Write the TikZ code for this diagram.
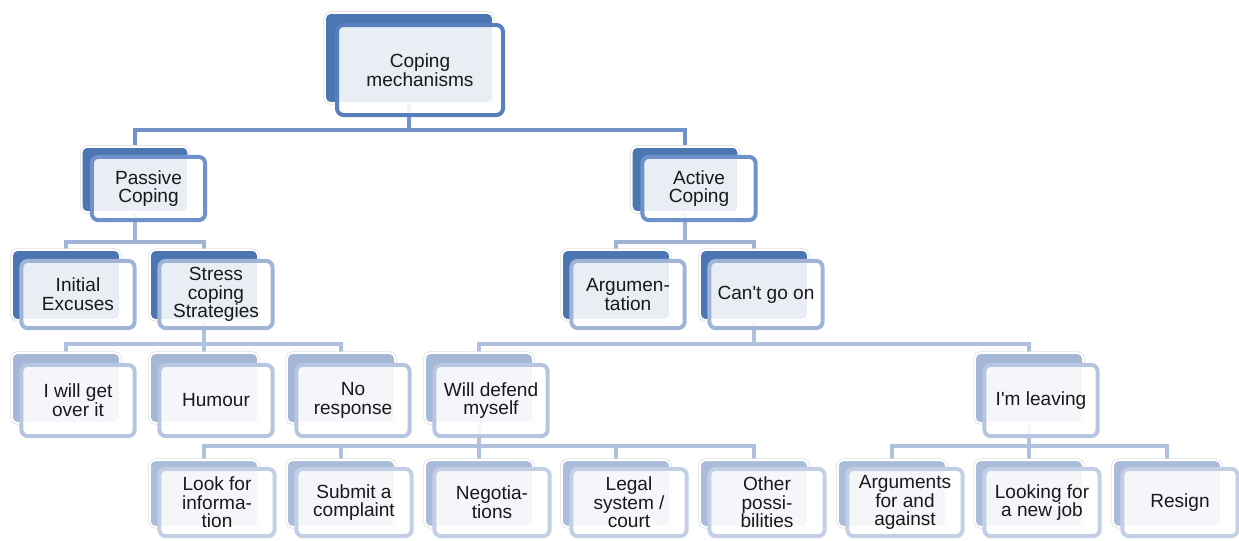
\documentclass[tikz,border=0pt]{standalone}
\usepackage{fontspec}
\setmainfont{Liberation Sans}
\usepackage{tikz}
\usetikzlibrary{backgrounds}

\definecolor{dkback}{RGB}{76,118,177}
\definecolor{rootedge}{RGB}{86,128,189}
\definecolor{midedge}{RGB}{112,146,202}
\definecolor{lightedge}{RGB}{160,180,215}
\definecolor{paleback}{RGB}{165,183,215}
\definecolor{paleedge}{RGB}{183,198,224}
\definecolor{faintback}{RGB}{171,188,218}
\definecolor{faintedge}{RGB}{195,207,229}
\definecolor{linkA}{RGB}{112,146,200}
\definecolor{linkB}{RGB}{160,180,215}
\definecolor{linkC}{RGB}{176,193,222}
\definecolor{txt}{RGB}{25,25,25}

\tikzset{
  backbox/.style n args={3}{fill=#1, draw=white, line width=1.4pt, rounded corners=4pt,
    inner sep=0pt, minimum width=#2, minimum height=#3,
    preaction={draw=black!13, line width=2.6pt}},
  frontbox/.style n args={3}{fill=white, fill opacity=0.88, text opacity=1, draw=#1,
    line width=3pt, rounded corners=5pt, inner sep=0pt, minimum width=#2, minimum height=#3,
    align=center, text=txt, font=\fontsize{14.3pt}{14pt}\selectfont},
  link/.style={draw=#1, line width=3pt}
}

\begin{document}
\begin{tikzpicture}[x=0.75pt,y=0.75pt,yscale=-1,xscale=1]
\useasboundingbox (0,0) rectangle (1239,540);

%Top box
\node [backbox={dkback}{126pt}{67.5pt}] (coping-b) at (409,58) {};
\node [frontbox={rootedge}{124.5pt}{67.5pt}] (coping) at (420,70) {Coping\\mechanisms};

%Second row
\node [backbox={dkback}{80pt}{49pt}] (passive-b) at (135,179.5) {};
\node [frontbox={midedge}{85pt}{47.5pt}] (passive) at (148.5,188.5) {Passive\\Coping};
\node [backbox={dkback}{80pt}{49pt}] (active-b) at (685,179.5) {};
\node [frontbox={midedge}{85pt}{47.5pt}] (active) at (699,188.5) {Active\\Coping};

%Third row
\node [backbox={dkback}{81pt}{52.5pt}] (excuses-b) at (66,285) {};
\node [frontbox={lightedge}{85pt}{50.5pt}] (excuses) at (78,294.5) {Initial\\Excuses};
\node [backbox={dkback}{81pt}{52.5pt}] (stress-b) at (204,285) {};
\node [frontbox={lightedge}{85pt}{50.5pt}] (stress) at (216,294.5) {Stress\\coping\\Strategies};
\node [backbox={dkback}{81pt}{52.5pt}] (argue-b) at (616,285) {};
\node [frontbox={lightedge}{85pt}{50.5pt}] (argue) at (628,294.5) {Argumen-\\tation};
\node [backbox={dkback}{81pt}{52.5pt}] (cant-b) at (754,285) {};
\node [frontbox={lightedge}{85pt}{50.5pt}] (cant) at (766,294.5) {Can\textquotesingle t go on};

%Fourth row
\node [backbox={paleback}{81pt}{52.5pt}] (getover-b) at (66,388) {};
\node [frontbox={paleedge}{85pt}{53.5pt}] (getover) at (78,400.5) {I will get\\over it};
\node [backbox={paleback}{81pt}{52.5pt}] (humour-b) at (204,388) {};
\node [frontbox={paleedge}{85pt}{53.5pt}] (humour) at (216,400.5) {Humour};
\node [backbox={paleback}{81pt}{52.5pt}] (noresp-b) at (341,388) {};
\node [frontbox={paleedge}{85pt}{53.5pt}] (noresp) at (353,400.5) {No\\response};
\node [backbox={paleback}{81pt}{52.5pt}] (defend-b) at (479,388) {};
\node [frontbox={paleedge}{85pt}{53.5pt}] (defend) at (491,400.5) {Will defend\\myself};
\node [backbox={paleback}{81pt}{52.5pt}] (leaving-b) at (1029,388) {};
\node [frontbox={paleedge}{85pt}{53.5pt}] (leaving) at (1041,400.5) {I\textquotesingle m leaving};

%Fifth row
\node [backbox={faintback}{81pt}{50pt}] (info-b) at (204,493.5) {};
\node [frontbox={faintedge}{86.5pt}{50.5pt}] (info) at (217,502.5) {Look for\\informa-\\tion};
\node [backbox={faintback}{81pt}{50pt}] (complaint-b) at (341,493.5) {};
\node [frontbox={faintedge}{86.5pt}{50.5pt}] (complaint) at (354,502.5) {Submit a\\complaint};
\node [backbox={faintback}{81pt}{50pt}] (negot-b) at (479,493.5) {};
\node [frontbox={faintedge}{86.5pt}{50.5pt}] (negot) at (492,502.5) {Negotia-\\tions};
\node [backbox={faintback}{81pt}{50pt}] (legal-b) at (616,493.5) {};
\node [frontbox={faintedge}{86.5pt}{50.5pt}] (legal) at (629,502.5) {Legal\\system /\\court};
\node [backbox={faintback}{81pt}{50pt}] (other-b) at (754,493.5) {};
\node [frontbox={faintedge}{86.5pt}{50.5pt}] (other) at (767,502.5) {Other\\possi-\\bilities};
\node [backbox={faintback}{81pt}{50pt}] (pros-b) at (892,493.5) {};
\node [frontbox={faintedge}{86.5pt}{50.5pt}] (pros) at (905,502.5) {Arguments\\for and\\against};
\node [backbox={faintback}{81pt}{50pt}] (newjob-b) at (1029,493.5) {};
\node [frontbox={faintedge}{86.5pt}{50.5pt}] (newjob) at (1042,502.5) {Looking for\\a new job};
\node [backbox={faintback}{81pt}{50pt}] (resign-b) at (1167,493.5) {};
\node [frontbox={faintedge}{86.5pt}{50.5pt}] (resign) at (1180,502.5) {Resign};

%Connectors
\coordinate (bar1) at (0,130);
\coordinate (bar2) at (0,242);
\coordinate (bar3) at (0,344);
\coordinate (bar4) at (0,446);
\begin{scope}[on background layer]
\foreach \kid in {passive,active}
  \draw [link=linkA] (coping-b.south) -- (coping-b.south |- bar1) -| (\kid-b.north);
\foreach \kid in {excuses,stress}
  \draw [link=linkB] (passive-b.south) -- (passive-b.south |- bar2) -| (\kid-b.north);
\foreach \kid in {argue,cant}
  \draw [link=linkB] (active-b.south) -- (active-b.south |- bar2) -| (\kid-b.north);
\foreach \kid in {getover,humour,noresp}
  \draw [link=linkC] (stress-b.south) -- (stress-b.south |- bar3) -| (\kid-b.north);
\foreach \kid in {defend,leaving}
  \draw [link=linkC] (cant-b.south) -- (cant-b.south |- bar3) -| (\kid-b.north);
\foreach \kid in {info,complaint,negot,legal,other}
  \draw [link=linkC] (defend-b.south) -- (defend-b.south |- bar4) -| (\kid-b.north);
\foreach \kid in {pros,newjob,resign}
  \draw [link=linkC] (leaving-b.south) -- (leaving-b.south |- bar4) -| (\kid-b.north);
\end{scope}

\end{tikzpicture}
\end{document}
